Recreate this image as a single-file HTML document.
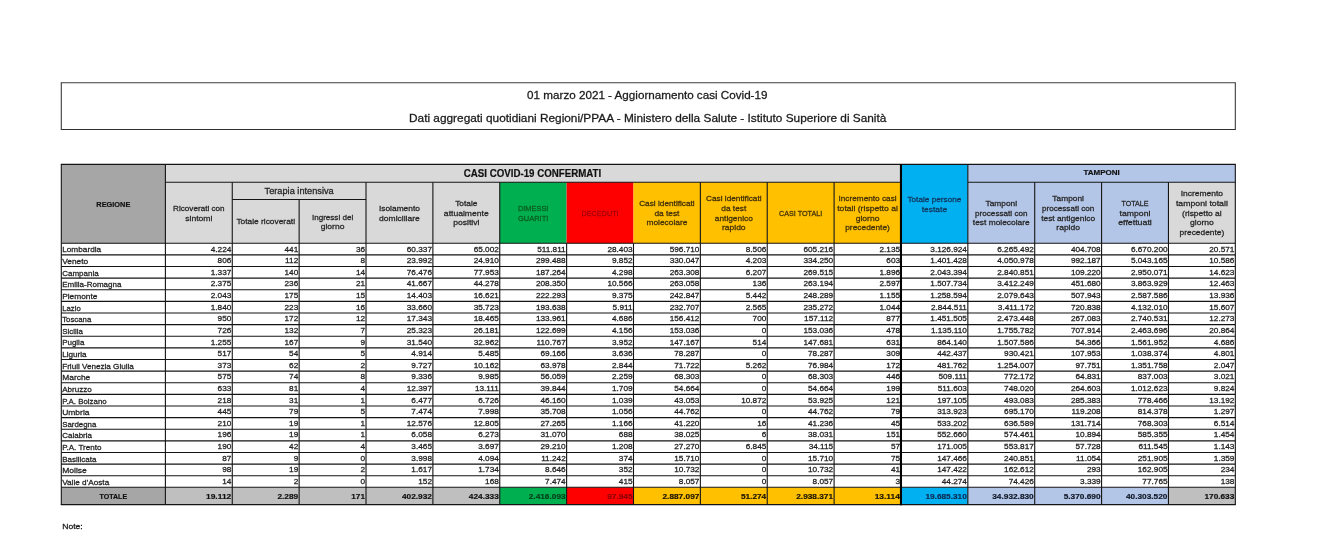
<!DOCTYPE html>
<html lang="it">
<head>
<meta charset="utf-8">
<title>01 marzo 2021 - Aggiornamento casi Covid-19</title>
<style>
html,body{margin:0;padding:0;background:#fff;}
body{width:1336px;height:541px;overflow:hidden;}
svg{display:block;font-family:"Liberation Sans",sans-serif;}
</style>
</head>
<body>
<svg width="1336" height="541" viewBox="0 0 1336 541">
<rect width="1336" height="541" fill="#fff"/>
<g>
<rect x="61.3" y="82.8" width="1174.02" height="46.7" fill="#fff"/>
<rect x="61.3" y="164.4" width="104.1" height="78.9" fill="#a6a6a6"/>
<rect x="165.4" y="164.4" width="735.57" height="17.8" fill="#d9d9d9"/>
<rect x="165.4" y="182.2" width="66.87" height="61.1" fill="#d9d9d9"/>
<rect x="232.27" y="182.2" width="66.87" height="61.1" fill="#d9d9d9"/>
<rect x="299.14" y="182.2" width="66.87" height="61.1" fill="#d9d9d9"/>
<rect x="366.01" y="182.2" width="66.87" height="61.1" fill="#d9d9d9"/>
<rect x="432.88" y="182.2" width="66.87" height="61.1" fill="#d9d9d9"/>
<rect x="499.75" y="182.2" width="66.87" height="61.1" fill="#00b050"/>
<rect x="566.62" y="182.2" width="66.87" height="61.1" fill="#ff0000"/>
<rect x="633.49" y="182.2" width="66.87" height="61.1" fill="#ffc000"/>
<rect x="700.36" y="182.2" width="66.87" height="61.1" fill="#ffc000"/>
<rect x="767.23" y="182.2" width="66.87" height="61.1" fill="#ffc000"/>
<rect x="834.1" y="182.2" width="66.87" height="61.1" fill="#ffc000"/>
<rect x="900.97" y="164.4" width="66.87" height="78.9" fill="#00b0f0"/>
<rect x="967.84" y="182.2" width="66.87" height="61.1" fill="#b4c6e7"/>
<rect x="1034.71" y="182.2" width="66.87" height="61.1" fill="#b4c6e7"/>
<rect x="1101.58" y="182.2" width="66.87" height="61.1" fill="#b4c6e7"/>
<rect x="1168.45" y="182.2" width="66.87" height="61.1" fill="#d9d9d9"/>
<rect x="967.84" y="164.4" width="267.48" height="17.8" fill="#b4c6e7"/>
<rect x="61.3" y="487.32" width="104.1" height="17.38" fill="#a6a6a6"/>
<rect x="165.4" y="487.32" width="66.87" height="17.38" fill="#bfbfbf"/>
<rect x="232.27" y="487.32" width="66.87" height="17.38" fill="#bfbfbf"/>
<rect x="299.14" y="487.32" width="66.87" height="17.38" fill="#bfbfbf"/>
<rect x="366.01" y="487.32" width="66.87" height="17.38" fill="#bfbfbf"/>
<rect x="432.88" y="487.32" width="66.87" height="17.38" fill="#bfbfbf"/>
<rect x="499.75" y="487.32" width="66.87" height="17.38" fill="#00b050"/>
<rect x="566.62" y="487.32" width="66.87" height="17.38" fill="#ff0000"/>
<rect x="633.49" y="487.32" width="66.87" height="17.38" fill="#ffc000"/>
<rect x="700.36" y="487.32" width="66.87" height="17.38" fill="#ffc000"/>
<rect x="767.23" y="487.32" width="66.87" height="17.38" fill="#ffc000"/>
<rect x="834.1" y="487.32" width="66.87" height="17.38" fill="#ffc000"/>
<rect x="900.97" y="487.32" width="66.87" height="17.38" fill="#00b0f0"/>
<rect x="967.84" y="487.32" width="66.87" height="17.38" fill="#b4c6e7"/>
<rect x="1034.71" y="487.32" width="66.87" height="17.38" fill="#b4c6e7"/>
<rect x="1101.58" y="487.32" width="66.87" height="17.38" fill="#b4c6e7"/>
<rect x="1168.45" y="487.32" width="66.87" height="17.38" fill="#bfbfbf"/>
</g>
<g stroke="#141414" stroke-width="1.1" fill="none">
<path d="M60.8 82.8H1235.82" stroke="#3c3c3c"/>
<path d="M60.8 129.5H1235.82" stroke="#303030"/>
<path d="M61.3 82.8V129.5" stroke="#3c3c3c"/>
<path d="M1235.32 82.8V129.5" stroke="#3c3c3c"/>
<path d="M60.8 164.4H1235.82"/>
<path d="M165.4 182.2H900.97"/>
<path d="M967.84 182.2H1235.32"/>
<path d="M232.27 199.5H366.01"/>
<path d="M61.3 243.3H1235.32"/>
<path d="M61.3 254.92H1235.32"/>
<path d="M61.3 266.54H1235.32"/>
<path d="M61.3 278.16H1235.32"/>
<path d="M61.3 289.78H1235.32"/>
<path d="M61.3 301.4H1235.32"/>
<path d="M61.3 313.02H1235.32"/>
<path d="M61.3 324.64H1235.32"/>
<path d="M61.3 336.26H1235.32"/>
<path d="M61.3 347.88H1235.32"/>
<path d="M61.3 359.5H1235.32"/>
<path d="M61.3 371.12H1235.32"/>
<path d="M61.3 382.74H1235.32"/>
<path d="M61.3 394.36H1235.32"/>
<path d="M61.3 405.98H1235.32"/>
<path d="M61.3 417.6H1235.32"/>
<path d="M61.3 429.22H1235.32"/>
<path d="M61.3 440.84H1235.32"/>
<path d="M61.3 452.46H1235.32"/>
<path d="M61.3 464.08H1235.32"/>
<path d="M61.3 475.7H1235.32"/>
<path d="M61.3 487.32H1235.32"/>
<path d="M60.8 504.7H1235.82" stroke-width="1.2"/>
<path d="M61.3 164.4V504.7"/>
<path d="M1235.32 164.4V504.7"/>
<path d="M165.4 164.4V504.7"/>
<path d="M232.27 182.2V504.7"/>
<path d="M299.14 199.5V504.7"/>
<path d="M366.01 182.2V504.7"/>
<path d="M432.88 182.2V504.7"/>
<path d="M499.75 182.2V504.7"/>
<path d="M566.62 243.3V504.7"/>
<path d="M633.49 243.3V504.7"/>
<path d="M700.36 182.2V504.7"/>
<path d="M767.23 182.2V504.7"/>
<path d="M834.1 182.2V504.7"/>
<path d="M967.84 164.4V504.7"/>
<path d="M1034.71 182.2V504.7"/>
<path d="M1101.58 182.2V504.7"/>
<path d="M1168.45 182.2V504.7"/>
<path d="M900.97 163.9V505.2" stroke-width="2.1" stroke="#000"/>
</g>
<g transform="scale(1 0.967)" font-size="8.24" color="#1f1f1f" fill="currentColor" stroke="currentColor" stroke-width="0.28">
<text x="647.31" y="102.14" text-anchor="middle" font-size="11.76" color="#1a1a1a" textLength="240.35" lengthAdjust="spacingAndGlyphs">01 marzo 2021 - Aggiornamento casi Covid-19</text>
<text x="647.71" y="126.52" text-anchor="middle" font-size="11.82" color="#1a1a1a" textLength="477.32" lengthAdjust="spacingAndGlyphs">Dati aggregati quotidiani Regioni/PPAA - Ministero della Salute - Istituto Superiore di Sanità</text>
<text x="113.35" y="214.22" text-anchor="middle" color="#111" font-weight="bold" stroke-width="0.2" textLength="33.98" lengthAdjust="spacingAndGlyphs">REGIONE</text>
<text x="532.49" y="182.69" text-anchor="middle" font-size="10.59" color="#111" font-weight="bold" stroke-width="0.2" textLength="137.54" lengthAdjust="spacingAndGlyphs">CASI COVID-19 CONFERMATI</text>
<text x="1101.58" y="181.44" text-anchor="middle" color="#111" font-weight="bold" stroke-width="0.2" textLength="36.39" lengthAdjust="spacingAndGlyphs">TAMPONI</text>
<text x="299.14" y="200.43" text-anchor="middle" font-size="9.29" color="#262626" textLength="69.23" lengthAdjust="spacingAndGlyphs">Terapia intensiva</text>
<text x="198.84" y="218.1" text-anchor="middle" color="#262626" textLength="51.45" lengthAdjust="spacingAndGlyphs">Ricoverati con</text>
<text x="198.84" y="228.13" text-anchor="middle" color="#262626" textLength="27.25" lengthAdjust="spacingAndGlyphs">sintomi</text>
<text x="265.7" y="232.11" text-anchor="middle" color="#262626" textLength="58.61" lengthAdjust="spacingAndGlyphs">Totale ricoverati</text>
<text x="332.57" y="227.1" text-anchor="middle" color="#262626" textLength="41.28" lengthAdjust="spacingAndGlyphs">Ingressi del</text>
<text x="332.57" y="237.13" text-anchor="middle" color="#262626" textLength="23.74" lengthAdjust="spacingAndGlyphs">giorno</text>
<text x="399.44" y="218.1" text-anchor="middle" color="#262626" textLength="41.03" lengthAdjust="spacingAndGlyphs">Isolamento</text>
<text x="399.44" y="228.13" text-anchor="middle" color="#262626" textLength="40.68" lengthAdjust="spacingAndGlyphs">domiciliare</text>
<text x="466.31" y="213.08" text-anchor="middle" color="#262626" textLength="22.17" lengthAdjust="spacingAndGlyphs">Totale</text>
<text x="466.31" y="223.11" text-anchor="middle" color="#262626" textLength="44.9" lengthAdjust="spacingAndGlyphs">attualmente</text>
<text x="466.31" y="233.14" text-anchor="middle" color="#262626" textLength="26.29" lengthAdjust="spacingAndGlyphs">positivi</text>
<text x="533.18" y="218.1" text-anchor="middle" color="#0a5c1e" textLength="30.45" lengthAdjust="spacingAndGlyphs">DIMESSI</text>
<text x="533.18" y="228.13" text-anchor="middle" color="#0a5c1e" textLength="30.37" lengthAdjust="spacingAndGlyphs">GUARITI</text>
<text x="600.06" y="223.11" text-anchor="middle" color="#a3000b" textLength="37.11" lengthAdjust="spacingAndGlyphs">DECEDUTI</text>
<text x="666.92" y="213.08" text-anchor="middle" color="#403008" textLength="55.58" lengthAdjust="spacingAndGlyphs">Casi identificati</text>
<text x="666.92" y="223.11" text-anchor="middle" color="#403008" textLength="24.99" lengthAdjust="spacingAndGlyphs">da test</text>
<text x="666.92" y="233.14" text-anchor="middle" color="#403008" textLength="40.97" lengthAdjust="spacingAndGlyphs">molecolare</text>
<text x="733.8" y="208.07" text-anchor="middle" color="#403008" textLength="55.58" lengthAdjust="spacingAndGlyphs">Casi identificati</text>
<text x="733.8" y="218.1" text-anchor="middle" color="#403008" textLength="24.99" lengthAdjust="spacingAndGlyphs">da test</text>
<text x="733.8" y="228.13" text-anchor="middle" color="#403008" textLength="38.01" lengthAdjust="spacingAndGlyphs">antigenico</text>
<text x="733.8" y="238.16" text-anchor="middle" color="#403008" textLength="23.61" lengthAdjust="spacingAndGlyphs">rapido</text>
<text x="800.66" y="223.11" text-anchor="middle" color="#403008" textLength="43.38" lengthAdjust="spacingAndGlyphs">CASI TOTALI</text>
<text x="867.54" y="208.07" text-anchor="middle" color="#403008" textLength="58.14" lengthAdjust="spacingAndGlyphs">Incremento casi</text>
<text x="867.54" y="218.1" text-anchor="middle" color="#403008" textLength="60.65" lengthAdjust="spacingAndGlyphs">totali (rispetto al</text>
<text x="867.54" y="228.13" text-anchor="middle" color="#403008" textLength="23.74" lengthAdjust="spacingAndGlyphs">giorno</text>
<text x="867.54" y="238.16" text-anchor="middle" color="#403008" textLength="44.64" lengthAdjust="spacingAndGlyphs">precedente)</text>
<text x="934.4" y="208.43" text-anchor="middle" color="#12365e" textLength="53.97" lengthAdjust="spacingAndGlyphs">Totale persone</text>
<text x="934.4" y="219.18" text-anchor="middle" color="#12365e" textLength="25.43" lengthAdjust="spacingAndGlyphs">testate</text>
<text x="1001.28" y="213.08" text-anchor="middle" color="#262626" textLength="31.56" lengthAdjust="spacingAndGlyphs">Tamponi</text>
<text x="1001.28" y="223.11" text-anchor="middle" color="#262626" textLength="52.45" lengthAdjust="spacingAndGlyphs">processati con</text>
<text x="1001.28" y="233.14" text-anchor="middle" color="#262626" textLength="56.89" lengthAdjust="spacingAndGlyphs">test molecolare</text>
<text x="1068.14" y="208.07" text-anchor="middle" color="#262626" textLength="31.56" lengthAdjust="spacingAndGlyphs">Tamponi</text>
<text x="1068.14" y="218.1" text-anchor="middle" color="#262626" textLength="52.45" lengthAdjust="spacingAndGlyphs">processati con</text>
<text x="1068.14" y="228.13" text-anchor="middle" color="#262626" textLength="53.93" lengthAdjust="spacingAndGlyphs">test antigenico</text>
<text x="1068.14" y="238.16" text-anchor="middle" color="#262626" textLength="23.61" lengthAdjust="spacingAndGlyphs">rapido</text>
<text x="1135.02" y="213.08" text-anchor="middle" color="#262626" textLength="27.01" lengthAdjust="spacingAndGlyphs">TOTALE</text>
<text x="1135.02" y="223.11" text-anchor="middle" color="#262626" textLength="30.78" lengthAdjust="spacingAndGlyphs">tamponi</text>
<text x="1135.02" y="233.14" text-anchor="middle" color="#262626" textLength="33.65" lengthAdjust="spacingAndGlyphs">effettuati</text>
<text x="1201.89" y="203.05" text-anchor="middle" color="#262626" textLength="42.43" lengthAdjust="spacingAndGlyphs">Incremento</text>
<text x="1201.89" y="213.08" text-anchor="middle" color="#262626" textLength="51.9" lengthAdjust="spacingAndGlyphs">tamponi totali</text>
<text x="1201.89" y="223.11" text-anchor="middle" color="#262626" textLength="39.52" lengthAdjust="spacingAndGlyphs">(rispetto al</text>
<text x="1201.89" y="233.14" text-anchor="middle" color="#262626" textLength="23.74" lengthAdjust="spacingAndGlyphs">giorno</text>
<text x="1201.89" y="243.18" text-anchor="middle" color="#262626" textLength="44.64" lengthAdjust="spacingAndGlyphs">precedente)</text>
<text x="62.2" y="261.08" textLength="39.01" lengthAdjust="spacingAndGlyphs">Lombardia</text>
<text x="231.37" y="260.15" text-anchor="end">4.224</text>
<text x="298.24" y="260.15" text-anchor="end">441</text>
<text x="365.11" y="260.15" text-anchor="end">36</text>
<text x="431.98" y="260.15" text-anchor="end">60.337</text>
<text x="498.85" y="260.15" text-anchor="end">65.002</text>
<text x="565.72" y="260.15" text-anchor="end">511.811</text>
<text x="632.59" y="260.15" text-anchor="end">28.403</text>
<text x="699.46" y="260.15" text-anchor="end">596.710</text>
<text x="766.33" y="260.15" text-anchor="end">8.506</text>
<text x="833.2" y="260.15" text-anchor="end">605.216</text>
<text x="900.07" y="260.15" text-anchor="end">2.135</text>
<text x="966.94" y="260.15" text-anchor="end">3.126.924</text>
<text x="1033.81" y="260.15" text-anchor="end">6.265.492</text>
<text x="1100.68" y="260.15" text-anchor="end">404.708</text>
<text x="1167.55" y="260.15" text-anchor="end">6.670.200</text>
<text x="1234.42" y="260.15" text-anchor="end">20.571</text>
<text x="62.2" y="273.09" textLength="26.06" lengthAdjust="spacingAndGlyphs">Veneto</text>
<text x="231.37" y="272.16" text-anchor="end">806</text>
<text x="298.24" y="272.16" text-anchor="end">112</text>
<text x="365.11" y="272.16" text-anchor="end">8</text>
<text x="431.98" y="272.16" text-anchor="end">23.992</text>
<text x="498.85" y="272.16" text-anchor="end">24.910</text>
<text x="565.72" y="272.16" text-anchor="end">299.488</text>
<text x="632.59" y="272.16" text-anchor="end">9.852</text>
<text x="699.46" y="272.16" text-anchor="end">330.047</text>
<text x="766.33" y="272.16" text-anchor="end">4.203</text>
<text x="833.2" y="272.16" text-anchor="end">334.250</text>
<text x="900.07" y="272.16" text-anchor="end">603</text>
<text x="966.94" y="272.16" text-anchor="end">1.401.428</text>
<text x="1033.81" y="272.16" text-anchor="end">4.050.978</text>
<text x="1100.68" y="272.16" text-anchor="end">992.187</text>
<text x="1167.55" y="272.16" text-anchor="end">5.043.165</text>
<text x="1234.42" y="272.16" text-anchor="end">10.586</text>
<text x="62.2" y="285.11" textLength="36.57" lengthAdjust="spacingAndGlyphs">Campania</text>
<text x="231.37" y="284.18" text-anchor="end">1.337</text>
<text x="298.24" y="284.18" text-anchor="end">140</text>
<text x="365.11" y="284.18" text-anchor="end">14</text>
<text x="431.98" y="284.18" text-anchor="end">76.476</text>
<text x="498.85" y="284.18" text-anchor="end">77.953</text>
<text x="565.72" y="284.18" text-anchor="end">187.264</text>
<text x="632.59" y="284.18" text-anchor="end">4.298</text>
<text x="699.46" y="284.18" text-anchor="end">263.308</text>
<text x="766.33" y="284.18" text-anchor="end">6.207</text>
<text x="833.2" y="284.18" text-anchor="end">269.515</text>
<text x="900.07" y="284.18" text-anchor="end">1.896</text>
<text x="966.94" y="284.18" text-anchor="end">2.043.394</text>
<text x="1033.81" y="284.18" text-anchor="end">2.840.851</text>
<text x="1100.68" y="284.18" text-anchor="end">109.220</text>
<text x="1167.55" y="284.18" text-anchor="end">2.950.071</text>
<text x="1234.42" y="284.18" text-anchor="end">14.623</text>
<text x="62.2" y="297.13" textLength="59.27" lengthAdjust="spacingAndGlyphs">Emilia-Romagna</text>
<text x="231.37" y="296.2" text-anchor="end">2.375</text>
<text x="298.24" y="296.2" text-anchor="end">236</text>
<text x="365.11" y="296.2" text-anchor="end">21</text>
<text x="431.98" y="296.2" text-anchor="end">41.667</text>
<text x="498.85" y="296.2" text-anchor="end">44.278</text>
<text x="565.72" y="296.2" text-anchor="end">208.350</text>
<text x="632.59" y="296.2" text-anchor="end">10.566</text>
<text x="699.46" y="296.2" text-anchor="end">263.058</text>
<text x="766.33" y="296.2" text-anchor="end">136</text>
<text x="833.2" y="296.2" text-anchor="end">263.194</text>
<text x="900.07" y="296.2" text-anchor="end">2.597</text>
<text x="966.94" y="296.2" text-anchor="end">1.507.734</text>
<text x="1033.81" y="296.2" text-anchor="end">3.412.249</text>
<text x="1100.68" y="296.2" text-anchor="end">451.680</text>
<text x="1167.55" y="296.2" text-anchor="end">3.863.929</text>
<text x="1234.42" y="296.2" text-anchor="end">12.463</text>
<text x="62.2" y="309.14" textLength="35.29" lengthAdjust="spacingAndGlyphs">Piemonte</text>
<text x="231.37" y="308.21" text-anchor="end">2.043</text>
<text x="298.24" y="308.21" text-anchor="end">175</text>
<text x="365.11" y="308.21" text-anchor="end">15</text>
<text x="431.98" y="308.21" text-anchor="end">14.403</text>
<text x="498.85" y="308.21" text-anchor="end">16.621</text>
<text x="565.72" y="308.21" text-anchor="end">222.293</text>
<text x="632.59" y="308.21" text-anchor="end">9.375</text>
<text x="699.46" y="308.21" text-anchor="end">242.847</text>
<text x="766.33" y="308.21" text-anchor="end">5.442</text>
<text x="833.2" y="308.21" text-anchor="end">248.289</text>
<text x="900.07" y="308.21" text-anchor="end">1.155</text>
<text x="966.94" y="308.21" text-anchor="end">1.258.594</text>
<text x="1033.81" y="308.21" text-anchor="end">2.079.643</text>
<text x="1100.68" y="308.21" text-anchor="end">507.943</text>
<text x="1167.55" y="308.21" text-anchor="end">2.587.586</text>
<text x="1234.42" y="308.21" text-anchor="end">13.936</text>
<text x="62.2" y="321.16" textLength="18.52" lengthAdjust="spacingAndGlyphs">Lazio</text>
<text x="231.37" y="320.23" text-anchor="end">1.840</text>
<text x="298.24" y="320.23" text-anchor="end">223</text>
<text x="365.11" y="320.23" text-anchor="end">16</text>
<text x="431.98" y="320.23" text-anchor="end">33.660</text>
<text x="498.85" y="320.23" text-anchor="end">35.723</text>
<text x="565.72" y="320.23" text-anchor="end">193.638</text>
<text x="632.59" y="320.23" text-anchor="end">5.911</text>
<text x="699.46" y="320.23" text-anchor="end">232.707</text>
<text x="766.33" y="320.23" text-anchor="end">2.565</text>
<text x="833.2" y="320.23" text-anchor="end">235.272</text>
<text x="900.07" y="320.23" text-anchor="end">1.044</text>
<text x="966.94" y="320.23" text-anchor="end">2.844.511</text>
<text x="1033.81" y="320.23" text-anchor="end">3.411.172</text>
<text x="1100.68" y="320.23" text-anchor="end">720.838</text>
<text x="1167.55" y="320.23" text-anchor="end">4.132.010</text>
<text x="1234.42" y="320.23" text-anchor="end">15.607</text>
<text x="62.2" y="333.18" textLength="29.03" lengthAdjust="spacingAndGlyphs">Toscana</text>
<text x="231.37" y="332.25" text-anchor="end">950</text>
<text x="298.24" y="332.25" text-anchor="end">172</text>
<text x="365.11" y="332.25" text-anchor="end">12</text>
<text x="431.98" y="332.25" text-anchor="end">17.343</text>
<text x="498.85" y="332.25" text-anchor="end">18.465</text>
<text x="565.72" y="332.25" text-anchor="end">133.961</text>
<text x="632.59" y="332.25" text-anchor="end">4.686</text>
<text x="699.46" y="332.25" text-anchor="end">156.412</text>
<text x="766.33" y="332.25" text-anchor="end">700</text>
<text x="833.2" y="332.25" text-anchor="end">157.112</text>
<text x="900.07" y="332.25" text-anchor="end">877</text>
<text x="966.94" y="332.25" text-anchor="end">1.451.505</text>
<text x="1033.81" y="332.25" text-anchor="end">2.473.448</text>
<text x="1100.68" y="332.25" text-anchor="end">267.083</text>
<text x="1167.55" y="332.25" text-anchor="end">2.740.531</text>
<text x="1234.42" y="332.25" text-anchor="end">12.273</text>
<text x="62.2" y="345.19" textLength="20.58" lengthAdjust="spacingAndGlyphs">Sicilia</text>
<text x="231.37" y="344.26" text-anchor="end">726</text>
<text x="298.24" y="344.26" text-anchor="end">132</text>
<text x="365.11" y="344.26" text-anchor="end">7</text>
<text x="431.98" y="344.26" text-anchor="end">25.323</text>
<text x="498.85" y="344.26" text-anchor="end">26.181</text>
<text x="565.72" y="344.26" text-anchor="end">122.699</text>
<text x="632.59" y="344.26" text-anchor="end">4.156</text>
<text x="699.46" y="344.26" text-anchor="end">153.036</text>
<text x="766.33" y="344.26" text-anchor="end">0</text>
<text x="833.2" y="344.26" text-anchor="end">153.036</text>
<text x="900.07" y="344.26" text-anchor="end">478</text>
<text x="966.94" y="344.26" text-anchor="end">1.135.110</text>
<text x="1033.81" y="344.26" text-anchor="end">1.755.782</text>
<text x="1100.68" y="344.26" text-anchor="end">707.914</text>
<text x="1167.55" y="344.26" text-anchor="end">2.463.696</text>
<text x="1234.42" y="344.26" text-anchor="end">20.864</text>
<text x="62.2" y="357.21" textLength="22.13" lengthAdjust="spacingAndGlyphs">Puglia</text>
<text x="231.37" y="356.28" text-anchor="end">1.255</text>
<text x="298.24" y="356.28" text-anchor="end">167</text>
<text x="365.11" y="356.28" text-anchor="end">9</text>
<text x="431.98" y="356.28" text-anchor="end">31.540</text>
<text x="498.85" y="356.28" text-anchor="end">32.962</text>
<text x="565.72" y="356.28" text-anchor="end">110.767</text>
<text x="632.59" y="356.28" text-anchor="end">3.952</text>
<text x="699.46" y="356.28" text-anchor="end">147.167</text>
<text x="766.33" y="356.28" text-anchor="end">514</text>
<text x="833.2" y="356.28" text-anchor="end">147.681</text>
<text x="900.07" y="356.28" text-anchor="end">631</text>
<text x="966.94" y="356.28" text-anchor="end">864.140</text>
<text x="1033.81" y="356.28" text-anchor="end">1.507.586</text>
<text x="1100.68" y="356.28" text-anchor="end">54.366</text>
<text x="1167.55" y="356.28" text-anchor="end">1.561.952</text>
<text x="1234.42" y="356.28" text-anchor="end">4.686</text>
<text x="62.2" y="369.23" textLength="24.41" lengthAdjust="spacingAndGlyphs">Liguria</text>
<text x="231.37" y="368.29" text-anchor="end">517</text>
<text x="298.24" y="368.29" text-anchor="end">54</text>
<text x="365.11" y="368.29" text-anchor="end">5</text>
<text x="431.98" y="368.29" text-anchor="end">4.914</text>
<text x="498.85" y="368.29" text-anchor="end">5.485</text>
<text x="565.72" y="368.29" text-anchor="end">69.166</text>
<text x="632.59" y="368.29" text-anchor="end">3.636</text>
<text x="699.46" y="368.29" text-anchor="end">78.287</text>
<text x="766.33" y="368.29" text-anchor="end">0</text>
<text x="833.2" y="368.29" text-anchor="end">78.287</text>
<text x="900.07" y="368.29" text-anchor="end">309</text>
<text x="966.94" y="368.29" text-anchor="end">442.437</text>
<text x="1033.81" y="368.29" text-anchor="end">930.421</text>
<text x="1100.68" y="368.29" text-anchor="end">107.953</text>
<text x="1167.55" y="368.29" text-anchor="end">1.038.374</text>
<text x="1234.42" y="368.29" text-anchor="end">4.801</text>
<text x="62.2" y="381.24" textLength="71.61" lengthAdjust="spacingAndGlyphs">Friuli Venezia Giulia</text>
<text x="231.37" y="380.31" text-anchor="end">373</text>
<text x="298.24" y="380.31" text-anchor="end">62</text>
<text x="365.11" y="380.31" text-anchor="end">2</text>
<text x="431.98" y="380.31" text-anchor="end">9.727</text>
<text x="498.85" y="380.31" text-anchor="end">10.162</text>
<text x="565.72" y="380.31" text-anchor="end">63.978</text>
<text x="632.59" y="380.31" text-anchor="end">2.844</text>
<text x="699.46" y="380.31" text-anchor="end">71.722</text>
<text x="766.33" y="380.31" text-anchor="end">5.262</text>
<text x="833.2" y="380.31" text-anchor="end">76.984</text>
<text x="900.07" y="380.31" text-anchor="end">172</text>
<text x="966.94" y="380.31" text-anchor="end">481.762</text>
<text x="1033.81" y="380.31" text-anchor="end">1.254.007</text>
<text x="1100.68" y="380.31" text-anchor="end">97.751</text>
<text x="1167.55" y="380.31" text-anchor="end">1.351.758</text>
<text x="1234.42" y="380.31" text-anchor="end">2.047</text>
<text x="62.2" y="393.26" textLength="28.12" lengthAdjust="spacingAndGlyphs">Marche</text>
<text x="231.37" y="392.33" text-anchor="end">575</text>
<text x="298.24" y="392.33" text-anchor="end">74</text>
<text x="365.11" y="392.33" text-anchor="end">8</text>
<text x="431.98" y="392.33" text-anchor="end">9.336</text>
<text x="498.85" y="392.33" text-anchor="end">9.985</text>
<text x="565.72" y="392.33" text-anchor="end">56.059</text>
<text x="632.59" y="392.33" text-anchor="end">2.259</text>
<text x="699.46" y="392.33" text-anchor="end">68.303</text>
<text x="766.33" y="392.33" text-anchor="end">0</text>
<text x="833.2" y="392.33" text-anchor="end">68.303</text>
<text x="900.07" y="392.33" text-anchor="end">446</text>
<text x="966.94" y="392.33" text-anchor="end">509.111</text>
<text x="1033.81" y="392.33" text-anchor="end">772.172</text>
<text x="1100.68" y="392.33" text-anchor="end">64.831</text>
<text x="1167.55" y="392.33" text-anchor="end">837.003</text>
<text x="1234.42" y="392.33" text-anchor="end">3.021</text>
<text x="62.2" y="405.28" textLength="29.56" lengthAdjust="spacingAndGlyphs">Abruzzo</text>
<text x="231.37" y="404.34" text-anchor="end">633</text>
<text x="298.24" y="404.34" text-anchor="end">81</text>
<text x="365.11" y="404.34" text-anchor="end">4</text>
<text x="431.98" y="404.34" text-anchor="end">12.397</text>
<text x="498.85" y="404.34" text-anchor="end">13.111</text>
<text x="565.72" y="404.34" text-anchor="end">39.844</text>
<text x="632.59" y="404.34" text-anchor="end">1.709</text>
<text x="699.46" y="404.34" text-anchor="end">54.664</text>
<text x="766.33" y="404.34" text-anchor="end">0</text>
<text x="833.2" y="404.34" text-anchor="end">54.664</text>
<text x="900.07" y="404.34" text-anchor="end">199</text>
<text x="966.94" y="404.34" text-anchor="end">511.603</text>
<text x="1033.81" y="404.34" text-anchor="end">748.020</text>
<text x="1100.68" y="404.34" text-anchor="end">264.603</text>
<text x="1167.55" y="404.34" text-anchor="end">1.012.623</text>
<text x="1234.42" y="404.34" text-anchor="end">9.824</text>
<text x="62.2" y="417.29" textLength="44.44" lengthAdjust="spacingAndGlyphs">P.A. Bolzano</text>
<text x="231.37" y="416.36" text-anchor="end">218</text>
<text x="298.24" y="416.36" text-anchor="end">31</text>
<text x="365.11" y="416.36" text-anchor="end">1</text>
<text x="431.98" y="416.36" text-anchor="end">6.477</text>
<text x="498.85" y="416.36" text-anchor="end">6.726</text>
<text x="565.72" y="416.36" text-anchor="end">46.160</text>
<text x="632.59" y="416.36" text-anchor="end">1.039</text>
<text x="699.46" y="416.36" text-anchor="end">43.053</text>
<text x="766.33" y="416.36" text-anchor="end">10.872</text>
<text x="833.2" y="416.36" text-anchor="end">53.925</text>
<text x="900.07" y="416.36" text-anchor="end">121</text>
<text x="966.94" y="416.36" text-anchor="end">197.105</text>
<text x="1033.81" y="416.36" text-anchor="end">493.083</text>
<text x="1100.68" y="416.36" text-anchor="end">285.383</text>
<text x="1167.55" y="416.36" text-anchor="end">778.466</text>
<text x="1234.42" y="416.36" text-anchor="end">13.192</text>
<text x="62.2" y="429.31" textLength="27.3" lengthAdjust="spacingAndGlyphs">Umbria</text>
<text x="231.37" y="428.38" text-anchor="end">445</text>
<text x="298.24" y="428.38" text-anchor="end">79</text>
<text x="365.11" y="428.38" text-anchor="end">5</text>
<text x="431.98" y="428.38" text-anchor="end">7.474</text>
<text x="498.85" y="428.38" text-anchor="end">7.998</text>
<text x="565.72" y="428.38" text-anchor="end">35.708</text>
<text x="632.59" y="428.38" text-anchor="end">1.056</text>
<text x="699.46" y="428.38" text-anchor="end">44.762</text>
<text x="766.33" y="428.38" text-anchor="end">0</text>
<text x="833.2" y="428.38" text-anchor="end">44.762</text>
<text x="900.07" y="428.38" text-anchor="end">79</text>
<text x="966.94" y="428.38" text-anchor="end">313.923</text>
<text x="1033.81" y="428.38" text-anchor="end">695.170</text>
<text x="1100.68" y="428.38" text-anchor="end">119.208</text>
<text x="1167.55" y="428.38" text-anchor="end">814.378</text>
<text x="1234.42" y="428.38" text-anchor="end">1.297</text>
<text x="62.2" y="441.32" textLength="34.06" lengthAdjust="spacingAndGlyphs">Sardegna</text>
<text x="231.37" y="440.39" text-anchor="end">210</text>
<text x="298.24" y="440.39" text-anchor="end">19</text>
<text x="365.11" y="440.39" text-anchor="end">1</text>
<text x="431.98" y="440.39" text-anchor="end">12.576</text>
<text x="498.85" y="440.39" text-anchor="end">12.805</text>
<text x="565.72" y="440.39" text-anchor="end">27.265</text>
<text x="632.59" y="440.39" text-anchor="end">1.166</text>
<text x="699.46" y="440.39" text-anchor="end">41.220</text>
<text x="766.33" y="440.39" text-anchor="end">16</text>
<text x="833.2" y="440.39" text-anchor="end">41.236</text>
<text x="900.07" y="440.39" text-anchor="end">45</text>
<text x="966.94" y="440.39" text-anchor="end">533.202</text>
<text x="1033.81" y="440.39" text-anchor="end">636.589</text>
<text x="1100.68" y="440.39" text-anchor="end">131.714</text>
<text x="1167.55" y="440.39" text-anchor="end">768.303</text>
<text x="1234.42" y="440.39" text-anchor="end">6.514</text>
<text x="62.2" y="453.34" textLength="29.83" lengthAdjust="spacingAndGlyphs">Calabria</text>
<text x="231.37" y="452.41" text-anchor="end">196</text>
<text x="298.24" y="452.41" text-anchor="end">19</text>
<text x="365.11" y="452.41" text-anchor="end">1</text>
<text x="431.98" y="452.41" text-anchor="end">6.058</text>
<text x="498.85" y="452.41" text-anchor="end">6.273</text>
<text x="565.72" y="452.41" text-anchor="end">31.070</text>
<text x="632.59" y="452.41" text-anchor="end">688</text>
<text x="699.46" y="452.41" text-anchor="end">38.025</text>
<text x="766.33" y="452.41" text-anchor="end">6</text>
<text x="833.2" y="452.41" text-anchor="end">38.031</text>
<text x="900.07" y="452.41" text-anchor="end">151</text>
<text x="966.94" y="452.41" text-anchor="end">552.660</text>
<text x="1033.81" y="452.41" text-anchor="end">574.461</text>
<text x="1100.68" y="452.41" text-anchor="end">10.894</text>
<text x="1167.55" y="452.41" text-anchor="end">585.355</text>
<text x="1234.42" y="452.41" text-anchor="end">1.454</text>
<text x="62.2" y="465.36" textLength="39.17" lengthAdjust="spacingAndGlyphs">P.A. Trento</text>
<text x="231.37" y="464.43" text-anchor="end">190</text>
<text x="298.24" y="464.43" text-anchor="end">42</text>
<text x="365.11" y="464.43" text-anchor="end">4</text>
<text x="431.98" y="464.43" text-anchor="end">3.465</text>
<text x="498.85" y="464.43" text-anchor="end">3.697</text>
<text x="565.72" y="464.43" text-anchor="end">29.210</text>
<text x="632.59" y="464.43" text-anchor="end">1.208</text>
<text x="699.46" y="464.43" text-anchor="end">27.270</text>
<text x="766.33" y="464.43" text-anchor="end">6.845</text>
<text x="833.2" y="464.43" text-anchor="end">34.115</text>
<text x="900.07" y="464.43" text-anchor="end">57</text>
<text x="966.94" y="464.43" text-anchor="end">171.005</text>
<text x="1033.81" y="464.43" text-anchor="end">553.817</text>
<text x="1100.68" y="464.43" text-anchor="end">57.728</text>
<text x="1167.55" y="464.43" text-anchor="end">611.545</text>
<text x="1234.42" y="464.43" text-anchor="end">1.143</text>
<text x="62.2" y="477.37" textLength="34.21" lengthAdjust="spacingAndGlyphs">Basilicata</text>
<text x="231.37" y="476.44" text-anchor="end">87</text>
<text x="298.24" y="476.44" text-anchor="end">9</text>
<text x="365.11" y="476.44" text-anchor="end">0</text>
<text x="431.98" y="476.44" text-anchor="end">3.998</text>
<text x="498.85" y="476.44" text-anchor="end">4.094</text>
<text x="565.72" y="476.44" text-anchor="end">11.242</text>
<text x="632.59" y="476.44" text-anchor="end">374</text>
<text x="699.46" y="476.44" text-anchor="end">15.710</text>
<text x="766.33" y="476.44" text-anchor="end">0</text>
<text x="833.2" y="476.44" text-anchor="end">15.710</text>
<text x="900.07" y="476.44" text-anchor="end">75</text>
<text x="966.94" y="476.44" text-anchor="end">147.466</text>
<text x="1033.81" y="476.44" text-anchor="end">240.851</text>
<text x="1100.68" y="476.44" text-anchor="end">11.054</text>
<text x="1167.55" y="476.44" text-anchor="end">251.905</text>
<text x="1234.42" y="476.44" text-anchor="end">1.359</text>
<text x="62.2" y="489.39" textLength="24.65" lengthAdjust="spacingAndGlyphs">Molise</text>
<text x="231.37" y="488.46" text-anchor="end">98</text>
<text x="298.24" y="488.46" text-anchor="end">19</text>
<text x="365.11" y="488.46" text-anchor="end">2</text>
<text x="431.98" y="488.46" text-anchor="end">1.617</text>
<text x="498.85" y="488.46" text-anchor="end">1.734</text>
<text x="565.72" y="488.46" text-anchor="end">8.646</text>
<text x="632.59" y="488.46" text-anchor="end">352</text>
<text x="699.46" y="488.46" text-anchor="end">10.732</text>
<text x="766.33" y="488.46" text-anchor="end">0</text>
<text x="833.2" y="488.46" text-anchor="end">10.732</text>
<text x="900.07" y="488.46" text-anchor="end">41</text>
<text x="966.94" y="488.46" text-anchor="end">147.422</text>
<text x="1033.81" y="488.46" text-anchor="end">162.612</text>
<text x="1100.68" y="488.46" text-anchor="end">293</text>
<text x="1167.55" y="488.46" text-anchor="end">162.905</text>
<text x="1234.42" y="488.46" text-anchor="end">234</text>
<text x="62.2" y="501.41" textLength="47.02" lengthAdjust="spacingAndGlyphs">Valle d'Aosta</text>
<text x="231.37" y="500.48" text-anchor="end">14</text>
<text x="298.24" y="500.48" text-anchor="end">2</text>
<text x="365.11" y="500.48" text-anchor="end">0</text>
<text x="431.98" y="500.48" text-anchor="end">152</text>
<text x="498.85" y="500.48" text-anchor="end">168</text>
<text x="565.72" y="500.48" text-anchor="end">7.474</text>
<text x="632.59" y="500.48" text-anchor="end">415</text>
<text x="699.46" y="500.48" text-anchor="end">8.057</text>
<text x="766.33" y="500.48" text-anchor="end">0</text>
<text x="833.2" y="500.48" text-anchor="end">8.057</text>
<text x="900.07" y="500.48" text-anchor="end">3</text>
<text x="966.94" y="500.48" text-anchor="end">44.274</text>
<text x="1033.81" y="500.48" text-anchor="end">74.426</text>
<text x="1100.68" y="500.48" text-anchor="end">3.339</text>
<text x="1167.55" y="500.48" text-anchor="end">77.765</text>
<text x="1234.42" y="500.48" text-anchor="end">138</text>
<text x="113.35" y="515.89" text-anchor="middle" color="#111" font-weight="bold" stroke-width="0.2" textLength="27.59" lengthAdjust="spacingAndGlyphs">TOTALE</text>
<text x="231.27" y="515.89" text-anchor="end" color="#111" font-weight="bold" stroke-width="0.2" textLength="25.3" lengthAdjust="spacingAndGlyphs">19.112</text>
<text x="298.14" y="515.89" text-anchor="end" color="#111" font-weight="bold" stroke-width="0.2" textLength="20.72" lengthAdjust="spacingAndGlyphs">2.289</text>
<text x="365.01" y="515.89" text-anchor="end" color="#111" font-weight="bold" stroke-width="0.2" textLength="13.73" lengthAdjust="spacingAndGlyphs">171</text>
<text x="431.88" y="515.89" text-anchor="end" color="#111" font-weight="bold" stroke-width="0.2" textLength="29.87" lengthAdjust="spacingAndGlyphs">402.932</text>
<text x="498.75" y="515.89" text-anchor="end" color="#111" font-weight="bold" stroke-width="0.2" textLength="29.87" lengthAdjust="spacingAndGlyphs">424.333</text>
<text x="565.62" y="515.89" text-anchor="end" color="#06401a" font-weight="bold" stroke-width="0.2" textLength="36.86" lengthAdjust="spacingAndGlyphs">2.416.093</text>
<text x="632.49" y="515.89" text-anchor="end" color="#8a0008" font-weight="bold" stroke-width="0.2" textLength="25.3" lengthAdjust="spacingAndGlyphs">97.945</text>
<text x="699.36" y="515.89" text-anchor="end" color="#1a1400" font-weight="bold" stroke-width="0.2" textLength="36.86" lengthAdjust="spacingAndGlyphs">2.887.097</text>
<text x="766.23" y="515.89" text-anchor="end" color="#1a1400" font-weight="bold" stroke-width="0.2" textLength="25.3" lengthAdjust="spacingAndGlyphs">51.274</text>
<text x="833.1" y="515.89" text-anchor="end" color="#1a1400" font-weight="bold" stroke-width="0.2" textLength="36.86" lengthAdjust="spacingAndGlyphs">2.938.371</text>
<text x="899.97" y="515.89" text-anchor="end" color="#1a1400" font-weight="bold" stroke-width="0.2" textLength="25.3" lengthAdjust="spacingAndGlyphs">13.114</text>
<text x="966.84" y="515.89" text-anchor="end" color="#0c2a55" font-weight="bold" stroke-width="0.2" textLength="41.44" lengthAdjust="spacingAndGlyphs">19.685.310</text>
<text x="1033.71" y="515.89" text-anchor="end" color="#111827" font-weight="bold" stroke-width="0.2" textLength="41.44" lengthAdjust="spacingAndGlyphs">34.932.830</text>
<text x="1100.58" y="515.89" text-anchor="end" color="#111827" font-weight="bold" stroke-width="0.2" textLength="36.86" lengthAdjust="spacingAndGlyphs">5.370.690</text>
<text x="1167.45" y="515.89" text-anchor="end" color="#111827" font-weight="bold" stroke-width="0.2" textLength="41.44" lengthAdjust="spacingAndGlyphs">40.303.520</text>
<text x="1234.32" y="515.89" text-anchor="end" color="#111" font-weight="bold" stroke-width="0.2" textLength="29.87" lengthAdjust="spacingAndGlyphs">170.633</text>
<text x="62.3" y="547.21" color="#1a1a1a" textLength="20.43" lengthAdjust="spacingAndGlyphs">Note:</text>
</g>
</svg>
</body>
</html>
